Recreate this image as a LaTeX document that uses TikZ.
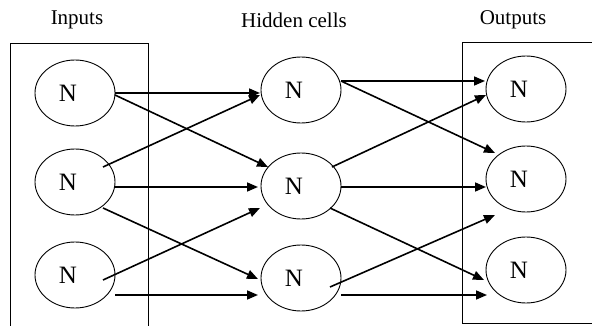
\documentclass[tikz,border=0pt]{standalone}
\usepackage{fontspec}
\setmainfont{Liberation Serif}
\usetikzlibrary{shapes.geometric,arrows.meta,calc}
\tikzset{
  neuron/.style={draw, line width=0.9pt, ellipse, minimum width=80pt, minimum height=66pt, inner sep=0pt,
    label={[font=\fontsize{25}{28}\selectfont, xshift=-7pt]center:N}},
  conn/.style={line width=1.6pt, -{Triangle[length=11pt,width=9pt]}},
  frame/.style={line width=0.9pt},
  title/.style={font=\fontsize{21}{24}\selectfont, inner sep=0pt}
}
\begin{document}
\begin{tikzpicture}[x=1pt,y=-1pt]
\useasboundingbox (0,0) rectangle (592,326);
\clip (0,0) rectangle (592,326);
% frames
\draw[frame] (10,340) -- (10,43) -- (148,43) -- (148,340);
\draw[frame] (610,42) -- (462,42) -- (462,323) -- (610,323);
% titles
\node[title] (tin) at (77,20) {Inputs};
\node[title] (thid) at (294,20) {Hidden cells};
\node[title] (tout) at (513,20) {Outputs};
% neurons
\node[neuron] (I1) at (75,93) {};
\node[neuron] (I2) at (75,182) {};
\node[neuron] (I3) at (75,275) {};
\node[neuron] (H1) at (301,90) {};
\node[neuron] (H2) at (301,186) {};
\node[neuron] (H3) at (301,278) {};
\node[neuron] (O1) at (526,89) {};
\node[neuron] (O2) at (526,179) {};
\node[neuron] (O3) at (526,270) {};
% input -> hidden
\draw[conn] ($(I1)+(40,0)$) -- ($(H1)+(-41,3)$);
\draw[conn] ($(I1)+(40,2)$) -- ($(H2)+(-33,-19)$);
\draw[conn] ($(I2)+(28,-15)$) -- ($(H1)+(-41,5)$);
\draw[conn] ($(I2)+(40,5)$) -- ($(H2)+(-43,1)$);
\draw[conn] ($(I2)+(28,26)$) -- ($(H3)+(-43,1)$);
\draw[conn] ($(I3)+(28,5)$) -- ($(H2)+(-41,22)$);
\draw[conn] ($(I3)+(40,20)$) -- ($(H3)+(-43,17)$);
% hidden -> output
\draw[conn] ($(H1)+(40,-9)$) -- ($(O1)+(-41,-8)$);
\draw[conn] ($(H1)+(40,-9)$) -- ($(O2)+(-31,-26)$);
\draw[conn] ($(H2)+(31,-19)$) -- ($(O1)+(-40,6)$);
\draw[conn] ($(H2)+(40,1)$) -- ($(O2)+(-40,8)$);
\draw[conn] ($(H2)+(29,22)$) -- ($(O3)+(-42,10)$);
\draw[conn] ($(H3)+(29,9)$) -- ($(O2)+(-31,36)$);
\draw[conn] ($(H3)+(40,17)$) -- ($(O3)+(-39,25)$);
\end{tikzpicture}
\end{document}
